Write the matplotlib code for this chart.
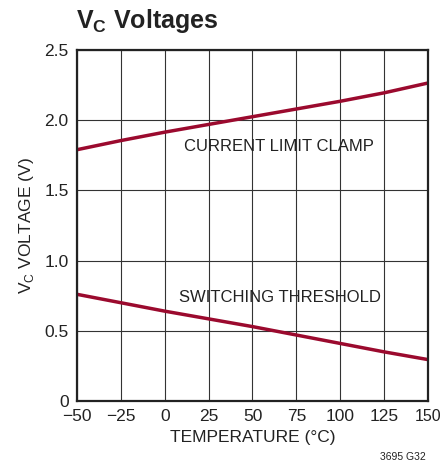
import matplotlib
matplotlib.use("Agg")
import matplotlib.pyplot as plt
from matplotlib import font_manager

names = {f.name for f in font_manager.fontManager.ttflist}
fam = "Liberation Sans Narrow" if "Liberation Sans Narrow" in names else "Liberation Sans"
plt.rcParams['font.family'] = [fam, 'DejaVu Sans']

temp = [-50, -25, 0, 25, 50, 75, 100, 125, 150]
clamp = [1.79, 1.855, 1.915, 1.97, 2.025, 2.08, 2.135, 2.195, 2.265]
threshold = [0.76, 0.70, 0.64, 0.585, 0.53, 0.47, 0.41, 0.35, 0.295]

xticks = [-50, -25, 0, 25, 50, 75, 100, 125, 150]
xlabels = ['\u221250', '\u221225', '0', '25', '50', '75', '100', '125', '150']
yticks = [0, 0.5, 1.0, 1.5, 2.0, 2.5]
ylabels = ['0', '0.5', '1.0', '1.5', '2.0', '2.5']

fig = plt.figure(figsize=(4.41, 4.71), dpi=100)
ax = fig.add_axes([0.1746, 0.1486, 0.7959, 0.7452])

color = '#9b0a2e'
ax.plot(temp, clamp, color=color, lw=2.5, solid_capstyle='butt')
ax.plot(temp, threshold, color=color, lw=2.5, solid_capstyle='butt')

ax.set_xlim(-50, 150)
ax.set_ylim(0, 2.5)
ax.set_xticks(xticks)
ax.set_xticklabels(xlabels)
ax.set_yticks(yticks)
ax.set_yticklabels(ylabels)
ax.tick_params(length=0, labelsize=12.5, colors='#222222', pad=6)
# keep the last x label inside the figure edge
ax.get_xticklabels()[-1].set_fontsize(11.5)
ax.grid(True, color='#333333', lw=0.8)
for s in ax.spines.values():
    s.set_linewidth(1.6)
    s.set_color('#222222')

ax.text(65, 1.81, 'CURRENT LIMIT CLAMP', fontsize=12, ha='center', va='center', color='#222222')
ax.text(65.5, 0.74, 'SWITCHING THRESHOLD', fontsize=12, ha='center', va='center', color='#222222')

ax.set_xlabel('TEMPERATURE (\u00b0C)', fontsize=12.5, color='#222222', labelpad=4)
ax.set_ylabel('V$_\\mathregular{C}$ VOLTAGE (V)', fontsize=12.5, color='#222222', labelpad=6)

fig.text(0.172, 0.955, 'V$_\\mathregular{C}$ Voltages', fontsize=18, fontweight='bold', ha='left', va='center', color='#222222')
fig.text(0.965, 0.03, '3695 G32', fontsize=7.5, ha='right', va='center', color='#222222')

fig.savefig('out.png', dpi=100)
